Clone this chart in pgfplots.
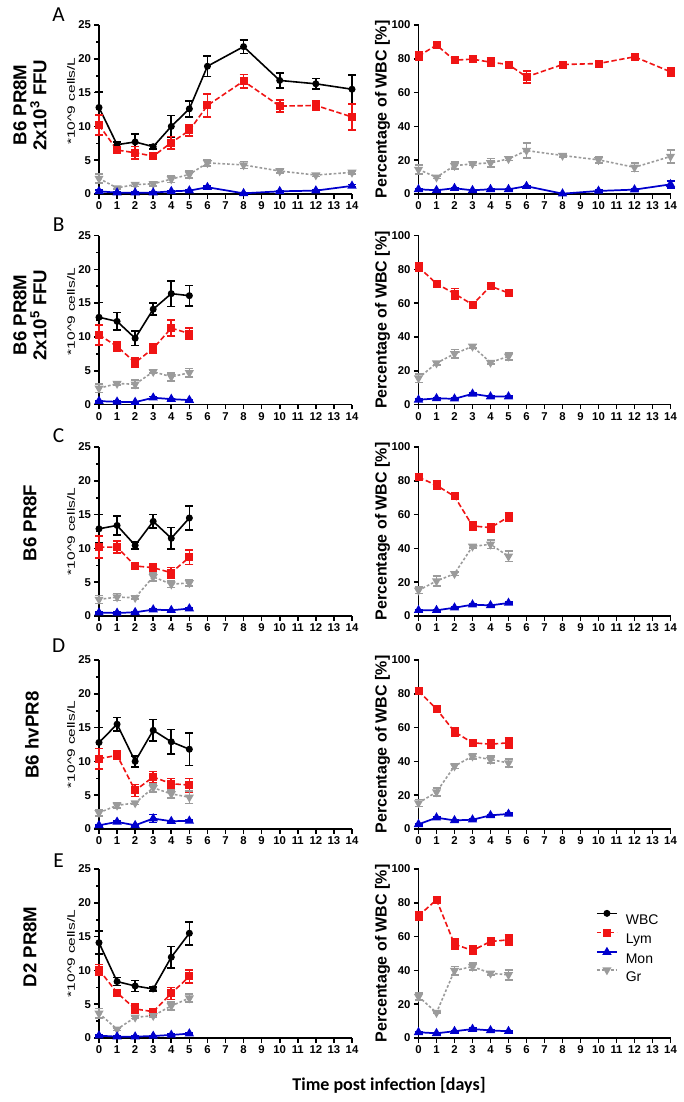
\documentclass[border=0pt]{standalone}
\usepackage{fontspec}
\setmainfont{Liberation Sans}
\newfontfamily\calibri{Carlito}
\usepackage{pgfplots}
\pgfplotsset{compat=1.18}

\definecolor{lymred}{RGB}{240,20,20}
\definecolor{monblue}{RGB}{0,0,205}
\definecolor{grgray}{RGB}{155,155,155}

\pgfplotsset{
  panel/.style={
    scale only axis, anchor=south west, clip=false,
    axis lines=left, axis line style={-, line width=1.2pt},
    xmin=0, xmax=14, ymin=0, xtick={0,...,14},
    tick align=outside, major tick length=3.5pt, minor tick length=2pt,
    every tick/.style={black, line width=1.2pt},
    ticklabel style={font=\bfseries\fontsize{8.5}{9}\selectfont},
    /pgf/number format/assume math mode=true,
    xticklabel style={yshift=1pt},
    yticklabel style={xshift=1pt},
    height=126.75pt,
  },
  leftpanel/.style={panel, width=189.75pt, ymax=25, ytick={0,5,...,25}, minor y tick num=1,
    ylabel={\scalebox{1.45}[1]{*10\textasciicircum 9 cells/L}}},
  rightpanel/.style={panel, width=189pt, ymax=100, ytick={0,20,...,100},
    ylabel={\bfseries Percentage of WBC [\%]},
    ylabel style={at={(axis description cs:-0.143,0.5)}, anchor=center, font=\fontsize{12}{12}\selectfont}},
  cells/.style={ylabel style={at={(axis description cs:-0.11,#1)}, anchor=center, font=\fontsize{8}{10}\selectfont}},
  ebar/.style={/pgfplots/error bars/y dir=both, /pgfplots/error bars/y explicit,
    /pgfplots/error bars/error bar style={solid, line width=1.2pt},
    /pgfplots/error bars/error mark options={solid, rotate=90, line width=1.2pt, mark size=3pt}},
  wbcS/.style={black, line width=1.2pt, mark=*, mark size=2pt, ebar},
  lymS/.style={lymred, line width=1.2pt, dash pattern=on 4pt off 2pt, mark=square*, mark size=2.4pt, mark options={solid}, ebar},
  monS/.style={monblue, line width=1.3pt, mark=triangle*, mark size=2.8pt, mark options={solid}, ebar},
  grS/.style={grgray, line width=1.2pt, dash pattern=on 2pt off 1.5pt, mark=triangle*, mark size=2.8pt, mark options={solid, rotate=180}, ebar},
}

\newcommand{\rowtitle}{\bfseries\fontsize{14}{15}\selectfont}

\begin{document}
\begin{tikzpicture}
\useasboundingbox (0,0) rectangle (512.25pt,-826.5pt);

% ---------------- A ----------------
\begin{axis}[leftpanel, at={(74.25pt,-145.5pt)}, cells=0.55]
\addplot[wbcS] coordinates {(0,12.8) +- (0,2.3) (1,7.3) +- (0,0.4) (2,7.7) +- (0,1.2) (3,7.0) +- (0,0.3) (4,10.0) +- (0,1.6) (5,12.6) +- (0,1.2) (6,18.9) +- (0,1.5) (8,21.8) +- (0,1.0) (10,16.8) +- (0,1.1) (12,16.3) +- (0,0.8) (14,15.5) +- (0,2.1)};
\addplot[lymS] coordinates {(0,10.2) +- (0,1.5) (1,6.5) +- (0,0.4) (2,6.1) +- (0,0.9) (3,5.6) +- (0,0.3) (4,7.6) +- (0,0.9) (5,9.4) +- (0,0.8) (6,13.1) +- (0,1.7) (8,16.7) +- (0,1.0) (10,13.0) +- (0,0.9) (12,13.1) +- (0,0.7) (14,11.4) +- (0,1.9)};
\addplot[grS] coordinates {(0,2.3) +- (0,0.7) (1,0.9) +- (0,0.2) (2,1.4) +- (0,0.3) (3,1.5) +- (0,0.3) (4,2.2) +- (0,0.5) (5,2.9) +- (0,0.5) (6,4.6) +- (0,0.5) (8,4.3) +- (0,0.5) (10,3.4) +- (0,0.3) (12,2.8) +- (0,0.2) (14,3.2) +- (0,0.2)};
\addplot[monS] coordinates {(0,0.4) +- (0,0.2) (1,0.2) +- (0,0.1) (2,0.2) +- (0,0.1) (3,0.2) +- (0,0.1) (4,0.4) +- (0,0.1) (5,0.5) +- (0,0.1) (6,1.0) +- (0,0.2) (8,0.1) +- (0,0.1) (10,0.4) +- (0,0.1) (12,0.5) +- (0,0.1) (14,1.2) +- (0,0.2)};
\end{axis}
\begin{axis}[rightpanel, at={(313.875pt,-145.5pt)}]
\addplot[lymS] coordinates {(0,81.6) +- (0,2.5) (1,88.1) +- (0,1.3) (2,79.2) +- (0,2) (3,79.8) +- (0,1) (4,78) +- (0,2.5) (5,76.6) +- (0,1) (6,69.3) +- (0,3.5) (8,76.6) +- (0,1) (10,77.2) +- (0,1) (12,81.2) +- (0,1.3) (14,72.3) +- (0,2.5)};
\addplot[grS] coordinates {(0,14.5) +- (0,2.5) (1,9.9) +- (0,0.8) (2,16.8) +- (0,2) (3,17.8) +- (0,1) (4,18.4) +- (0,2.5) (5,20.8) +- (0,1) (6,25.7) +- (0,4.5) (8,22.8) +- (0,1) (10,20.2) +- (0,2) (12,15.8) +- (0,2.5) (14,22.2) +- (0,4)};
\addplot[monS] coordinates {(0,2.8) +- (0,0.5) (1,2.2) +- (0,0.5) (2,3.4) +- (0,0.5) (3,2.2) +- (0,0.5) (4,2.8) +- (0,0.5) (5,2.8) +- (0,0.5) (6,4.6) +- (0,0.5) (8,0.2) +- (0,0.2) (10,1.8) +- (0,0.5) (12,2.6) +- (0,0.5) (14,5.7) +- (0,2)};
\end{axis}

% ---------------- B ----------------
\begin{axis}[leftpanel, at={(74.25pt,-303.375pt)}, cells=0.55]
\addplot[wbcS] coordinates {(0,12.9) +- (0,2.2) (1,12.3) +- (0,1.3) (2,9.8) +- (0,1.1) (3,14.1) +- (0,0.9) (4,16.4) +- (0,1.9) (5,16.1) +- (0,1.5)};
\addplot[lymS] coordinates {(0,10.3) +- (0,1.5) (1,8.6) +- (0,0.7) (2,6.2) +- (0,0.7) (3,8.3) +- (0,0.7) (4,11.3) +- (0,1.2) (5,10.5) +- (0,0.8)};
\addplot[grS] coordinates {(0,2.4) +- (0,0.6) (1,3.1) +- (0,0.2) (2,3.0) +- (0,0.6) (3,4.85) +- (0,0.2) (4,4.1) +- (0,0.6) (5,4.7) +- (0,0.6)};
\addplot[monS] coordinates {(0,0.5) +- (0,0.1) (1,0.4) +- (0,0.1) (2,0.35) +- (0,0.1) (3,1.0) +- (0,0.2) (4,0.8) +- (0,0.1) (5,0.65) +- (0,0.1)};
\end{axis}
\begin{axis}[rightpanel, at={(313.875pt,-303.375pt)}]
\addplot[lymS] coordinates {(0,81.4) +- (0,2.5) (1,71.5) +- (0,1) (2,65.6) +- (0,3) (3,59.1) +- (0,1) (4,70) +- (0,1) (5,66) +- (0,2)};
\addplot[grS] coordinates {(0,15.6) +- (0,2.5) (1,24.5) +- (0,1) (2,30) +- (0,2.5) (3,34.4) +- (0,1) (4,24.9) +- (0,1) (5,28.5) +- (0,2)};
\addplot[monS] coordinates {(0,2.8) +- (0,0.5) (1,3.6) +- (0,0.5) (2,3.4) +- (0,0.5) (3,6.3) +- (0,0.6) (4,4.7) +- (0,0.5) (5,4.7) +- (0,0.5)};
\end{axis}

% ---------------- C ----------------
\begin{axis}[leftpanel, at={(74.25pt,-462pt)}, cells=0.5]
\addplot[wbcS] coordinates {(0,12.9) +- (0,2.1) (1,13.4) +- (0,1.4) (2,10.45) +- (0,0.5) (3,14.0) +- (0,1.0) (4,11.5) +- (0,1.6) (5,14.5) +- (0,1.8)};
\addplot[lymS] coordinates {(0,10.2) +- (0,1.6) (1,10.2) +- (0,0.9) (2,7.4) +- (0,0.5) (3,7.15) +- (0,0.5) (4,6.4) +- (0,0.8) (5,8.7) +- (0,1.1)};
\addplot[grS] coordinates {(0,2.45) +- (0,0.6) (1,2.8) +- (0,0.5) (2,2.7) +- (0,0.2) (3,5.8) +- (0,0.6) (4,4.7) +- (0,0.5) (5,4.9) +- (0,0.5)};
\addplot[monS] coordinates {(0,0.5) +- (0,0.1) (1,0.45) +- (0,0.1) (2,0.55) +- (0,0.1) (3,0.95) +- (0,0.1) (4,0.85) +- (0,0.1) (5,1.1) +- (0,0.1)};
\end{axis}
\begin{axis}[rightpanel, at={(313.875pt,-462pt)}]
\addplot[lymS] coordinates {(0,82.2) +- (0,2) (1,77.3) +- (0,2.5) (2,70.8) +- (0,1) (3,53.3) +- (0,2.5) (4,52.3) +- (0,2.5) (5,58.6) +- (0,2.5)};
\addplot[grS] coordinates {(0,15.2) +- (0,2) (1,20.7) +- (0,3) (2,25) +- (0,1) (3,41.2) +- (0,1) (4,42.4) +- (0,2.5) (5,35.3) +- (0,3)};
\addplot[monS] coordinates {(0,3.4) +- (0,0.5) (1,3.4) +- (0,0.5) (2,4.9) +- (0,0.5) (3,6.7) +- (0,0.5) (4,6.3) +- (0,0.5) (5,7.7) +- (0,0.5)};
\end{axis}

% ---------------- D ----------------
\begin{axis}[leftpanel, at={(74.25pt,-621.75pt)}, cells=0.5]
\addplot[wbcS] coordinates {(0,12.8) +- (0,2.2) (1,15.5) +- (0,1.0) (2,10.0) +- (0,0.8) (3,14.6) +- (0,1.6) (4,12.9) +- (0,1.8) (5,11.8) +- (0,2.4)};
\addplot[lymS] coordinates {(0,10.4) +- (0,1.5) (1,10.9) +- (0,0.6) (2,5.7) +- (0,0.9) (3,7.7) +- (0,0.8) (4,6.7) +- (0,0.8) (5,6.5) +- (0,1.0)};
\addplot[grS] coordinates {(0,2.4) +- (0,0.5) (1,3.5) +- (0,0.4) (2,3.85) +- (0,0.2) (3,6.1) +- (0,0.6) (4,5.2) +- (0,0.6) (5,4.7) +- (0,0.9)};
\addplot[monS] coordinates {(0,0.55) +- (0,0.1) (1,1.05) +- (0,0.1) (2,0.55) +- (0,0.1) (3,1.55) +- (0,0.6) (4,1.15) +- (0,0.1) (5,1.2) +- (0,0.1)};
\end{axis}
\begin{axis}[rightpanel, at={(313.875pt,-621.75pt)}]
\addplot[lymS] coordinates {(0,81.6) +- (0,2) (1,71) +- (0,1) (2,57.5) +- (0,2.5) (3,51) +- (0,1) (4,50.2) +- (0,2.5) (5,51) +- (0,3)};
\addplot[grS] coordinates {(0,15.4) +- (0,2) (1,21.9) +- (0,2.5) (2,37.2) +- (0,1.5) (3,43.1) +- (0,1.5) (4,41.1) +- (0,2) (5,39.1) +- (0,2.5)};
\addplot[monS] coordinates {(0,2.8) +- (0,0.5) (1,6.7) +- (0,0.5) (2,5.1) +- (0,0.5) (3,5.5) +- (0,0.5) (4,8.1) +- (0,0.5) (5,8.9) +- (0,0.5)};
\end{axis}

% ---------------- E ----------------
\begin{axis}[leftpanel, at={(74.25pt,-778.5pt)}, cells=0.5]
\addplot[wbcS] coordinates {(0,14.1) +- (0,1.7) (1,8.35) +- (0,0.6) (2,7.7) +- (0,0.8) (3,7.26) +- (0,0.3) (4,11.96) +- (0,1.6) (5,15.5) +- (0,1.7)};
\addplot[lymS] coordinates {(0,10.1) +- (0,0.8) (1,6.7) +- (0,0.3) (2,4.3) +- (0,0.7) (3,3.9) +- (0,0.3) (4,6.6) +- (0,0.9) (5,9.1) +- (0,1.0)};
\addplot[grS] coordinates {(0,3.65) +- (0,0.7) (1,1.3) +- (0,0.2) (2,3.06) +- (0,0.2) (3,3.3) +- (0,0.2) (4,4.75) +- (0,0.6) (5,5.9) +- (0,0.6)};
\addplot[monS] coordinates {(0,0.35) +- (0,0.1) (1,0.2) +- (0,0.1) (2,0.2) +- (0,0.1) (3,0.3) +- (0,0.1) (4,0.45) +- (0,0.1) (5,0.65) +- (0,0.1)};
\end{axis}
\begin{axis}[rightpanel, at={(313.875pt,-778.5pt)},
  legend style={at={(axis cs:9.85,75.5)}, anchor=north west, draw=none, fill=none, inner sep=0pt,
    font=\fontsize{10.5}{12}\selectfont, row sep=1pt, column sep=5pt,
    nodes={inner sep=1pt}},
  legend cell align=left,
  legend image code/.code={\draw[mark repeat=2,mark phase=2,#1] plot coordinates {(0pt,0pt) (7.5pt,0pt) (15pt,0pt)};}]
\addlegendimage{black, line width=1.2pt, mark=*, mark size=2pt}
\addlegendentry{WBC}
\addlegendimage{lymred, line width=1.2pt, dash pattern=on 3pt off 2pt, mark=square*, mark size=2.4pt, mark options={solid}}
\addlegendentry{Lym}
\addlegendimage{monblue, line width=1.3pt, mark=triangle*, mark size=2.8pt}
\addlegendentry{Mon}
\addlegendimage{grgray, line width=1.2pt, dash pattern=on 2pt off 1.5pt, mark=triangle*, mark size=2.8pt, mark options={solid, rotate=180}}
\addlegendentry{Gr}
\addplot[forget plot, lymS] coordinates {(0,72.3) +- (0,2.5) (1,81.8) +- (0,1) (2,55.5) +- (0,3) (3,51.8) +- (0,2.5) (4,57.1) +- (0,2) (5,58.1) +- (0,3)};
\addplot[forget plot, monS] coordinates {(0,3.4) +- (0,0.5) (1,2.8) +- (0,0.5) (2,4.0) +- (0,0.5) (3,5.3) +- (0,0.5) (4,4.5) +- (0,0.5) (5,4.0) +- (0,0.5)};
\addplot[forget plot, grS] coordinates {(0,24.5) +- (0,2) (1,15) +- (0,0.5) (2,39.9) +- (0,2.5) (3,42.3) +- (0,2) (4,38.3) +- (0,1) (5,37.4) +- (0,3)};
\end{axis}

% row titles and panel letters
\node[rotate=90, align=center, font=\rowtitle] at (22.5pt,-78.75pt) {B6 PR8M\\2x10\textsuperscript{3} FFU};
\node[rotate=90, align=center, font=\rowtitle] at (22.5pt,-236.25pt) {B6 PR8M\\2x10\textsuperscript{5} FFU};
\node[rotate=90, font=\rowtitle] at (22.5pt,-392.25pt) {B6 PR8F};
\node[rotate=90, font=\rowtitle] at (24pt,-551.25pt) {B6 hvPR8};
\node[rotate=90, font=\rowtitle] at (22.5pt,-710.25pt) {D2 PR8M};
\foreach \l/\y in {A/11.25, B/168.75, C/327, D/484.5, E/645.75}
  \node[font=\calibri\fontsize{16}{16}\selectfont] at (44pt,-\y pt) {\l};
\node[font=\calibri\bfseries\fontsize{13.5}{14}\selectfont] at (291.75pt,-813.75pt) {Time post infection [days]};
\end{tikzpicture}
\end{document}
